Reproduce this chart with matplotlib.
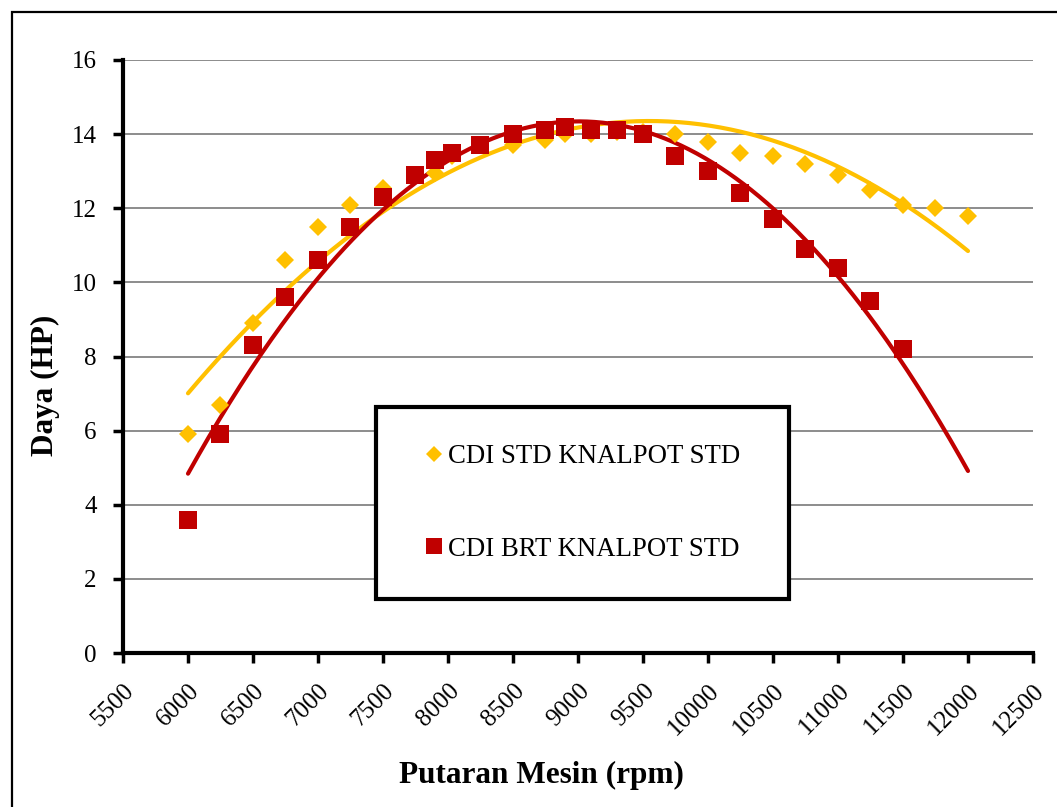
import numpy as np
import matplotlib
matplotlib.use("Agg")
import matplotlib.pyplot as plt
from matplotlib.patches import Rectangle
from matplotlib.lines import Line2D

# ---------------- data ----------------
rpm_std = [6000, 6250, 6500, 6750, 7000, 7250, 7500, 7750, 7900, 8030, 8250, 8500,
           8750, 8900, 9100, 9300, 9500, 9750, 10000, 10250, 10500, 10750, 11000,
           11250, 11500, 11750, 12000]
hp_std = [5.9, 6.7, 8.9, 10.6, 11.5, 12.1, 12.55, 12.9, 12.95, 13.4, 13.7, 13.7,
          13.85, 14.0, 14.0, 14.05, 14.05, 14.0, 13.8, 13.5, 13.4, 13.2, 12.9,
          12.5, 12.1, 12.0, 11.8]

rpm_brt = [6000, 6250, 6500, 6750, 7000, 7250, 7500, 7750, 7900, 8030, 8250, 8500,
           8750, 8900, 9100, 9300, 9500, 9750, 10000, 10250, 10500, 10750, 11000,
           11250, 11500]
hp_brt = [3.6, 5.9, 8.3, 9.6, 10.6, 11.5, 12.3, 12.9, 13.3, 13.5, 13.7, 14.0,
          14.1, 14.2, 14.1, 14.1, 14.0, 13.4, 13.0, 12.4, 11.7, 10.9, 10.4,
          9.5, 8.2]

labels = ["CDI STD KNALPOT STD", "CDI BRT KNALPOT STD"]
x_ticks = list(range(5500, 12501, 500))
y_ticks = list(range(0, 17, 2))
trend_end = 12000

c_std = "#FFC000"
c_brt = "#C00000"

plt.rcParams["font.family"] = ["Liberation Serif", "DejaVu Serif"]

fig = plt.figure(figsize=(10.57, 8.07), dpi=100)
ax = fig.add_axes([123 / 1057, 1 - 653 / 807, 910 / 1057, 593 / 807])

# figure frame
fig.patches.append(Rectangle((12 / 1057, -0.05), 1.1, 1 - 12 / 807 + 0.05,
                             transform=fig.transFigure, fill=False,
                             edgecolor="black", linewidth=1.6, zorder=0))

# grid
ax.set_axisbelow(True)
ax.yaxis.grid(True, color="#8C8C8C", linewidth=1.4)

# trendlines (2nd order polynomial)
for xs, ys, col in [(rpm_std, hp_std, c_std), (rpm_brt, hp_brt, c_brt)]:
    coef = np.polyfit(xs, ys, 2)
    xx = np.linspace(xs[0], trend_end, 300)
    ax.plot(xx, np.polyval(coef, xx), color=col, linewidth=3.0,
            solid_capstyle="round", zorder=2)

# markers
ax.plot(rpm_std, hp_std, linestyle="none", marker="D", markersize=9.0,
        color=c_std, markeredgewidth=0, zorder=3)
ax.plot(rpm_brt, hp_brt, linestyle="none", marker="s", markersize=13.4,
        color=c_brt, markeredgewidth=0, zorder=4)

ax.set_xlim(5500, 12500)
ax.set_ylim(0, 16)
ax.set_xticks(x_ticks)
ax.set_yticks(y_ticks)
ax.set_xticklabels([str(v) for v in x_ticks], rotation=45, ha="right",
                   rotation_mode="anchor", fontsize=18)
ax.set_yticklabels([str(v) for v in y_ticks], fontsize=18)
ax.tick_params(axis="both", direction="out", length=7, width=2.5, color="black")
ax.tick_params(axis="x", pad=12)
ax.tick_params(axis="y", pad=12)

for s in ["top", "right"]:
    ax.spines[s].set_visible(False)
for s in ["left", "bottom"]:
    ax.spines[s].set_linewidth(3)
    ax.spines[s].set_color("black")

ax.set_xlabel("Putaran Mesin (rpm)", fontsize=22.5, fontweight="bold",
              va="center", ha="center")
ax.xaxis.set_label_coords((541 - 123) / 910, (653 - 775) / 593)
ax.set_ylabel("Daya (HP)", fontsize=22.5, fontweight="bold",
              va="center", ha="center")
ax.yaxis.set_label_coords((45 - 123) / 910, (653 - 385) / 593)

# legend box
x0, x1 = (376 - 123) / 910, (789 - 123) / 910
y0, y1 = (653 - 599) / 593, (653 - 407) / 593
ax.add_patch(Rectangle((x0, y0), x1 - x0, y1 - y0, transform=ax.transAxes,
                       facecolor="white", edgecolor="black", linewidth=3,
                       zorder=5))
handles = [Line2D([], [], linestyle="none", marker="D", markersize=8,
                  color=c_std, markeredgewidth=0),
           Line2D([], [], linestyle="none", marker="s", markersize=12,
                  color=c_brt, markeredgewidth=0)]
leg = ax.legend(handles, labels, loc="center",
                bbox_to_anchor=((x0 + x1) / 2, (y0 + y1) / 2),
                frameon=False, fontsize=19.3, labelspacing=2.5,
                handlelength=0.7, handletextpad=0.15)
leg.set_zorder(6)

fig.savefig("out.png", dpi=100)
